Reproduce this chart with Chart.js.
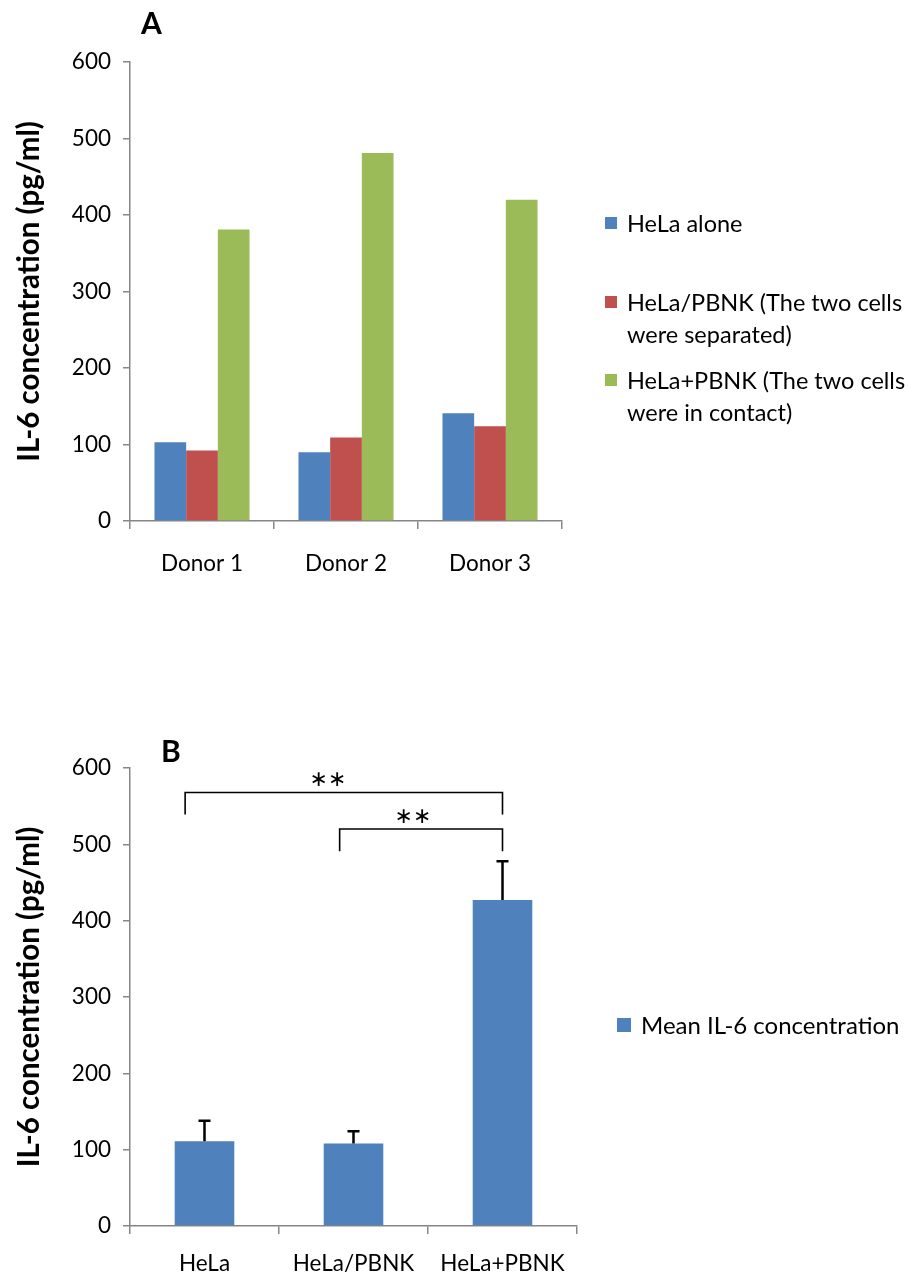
<!DOCTYPE html>
<html>
<head>
<meta charset="utf-8">
<script src="https://cdn.jsdelivr.net/npm/chart.js@4/dist/chart.umd.min.js"></script>
<style>
  html, body { margin: 0; padding: 0; background: #fff; }
  body { width: 911px; height: 1280px; position: relative; overflow: hidden; font-family: Lato, sans-serif; color: #000; }
  canvas { position: absolute; left: 0; }
  #chartA { top: 0; }
  #chartB { top: 640px; }
  .panel { position: absolute; font-weight: bold; font-size: 30px; line-height: 30px; }
  .leg { position: absolute; font-size: 23.5px; line-height: 32px; white-space: nowrap; padding-left: 22px; }
  .leg .sw { position: absolute; left: 0; top: 10px; width: 12px; height: 12px; }
</style>
</head>
<body>
<canvas id="chartA" width="911" height="640"></canvas>
<canvas id="chartB" width="911" height="640"></canvas>

<div class="panel" style="left:141px;top:7px;">A</div>
<div class="panel" style="left:161px;top:735px;">B</div>

<div class="leg" style="left:605px;top:207px;"><span class="sw" style="background:#4F81BD"></span>HeLa alone</div>
<div class="leg" style="left:605px;top:286px;"><span class="sw" style="background:#C0504D"></span>HeLa/PBNK (The two cells<br>were separated)</div>
<div class="leg" style="left:605px;top:364px;"><span class="sw" style="background:#9BBB59"></span>HeLa+PBNK (The two cells<br>were in contact)</div>
<div class="leg" style="left:617px;top:1009px;padding-left:24px;font-size:24px;"><span class="sw" style="background:#4F81BD;width:14px;height:14px;top:9px;"></span>Mean IL-6 concentration</div>

<script>
// Panel A: IL-6 per donor
const donorLabels = ['Donor 1', 'Donor 2', 'Donor 3'];
const helaAlone = [103, 90, 141];
const helaSeparated = [92, 109, 124];
const helaContact = [381, 481, 420];

// Panel B: mean IL-6 with SD
const groupLabels = ['HeLa', 'HeLa/PBNK', 'HeLa+PBNK'];
const meanIL6 = [111, 108, 427];
const sdIL6 = [27, 16, 51];

// Significance brackets: categories compared, bar height and leg bottom (pg/ml)
const bracketFrom = [0, 1];
const bracketTo = [2, 2];
const bracketTop = [568, 520];
const bracketLegEnd = [539, 491];
const bracketText = ['**', '**'];

const yTicks = [0, 100, 200, 300, 400, 500, 600];

const AXIS = '#868686';
const tickFont = { family: 'Lato', size: 22.5 };
const titleFont = { family: 'Lato', size: 29.5, weight: 'bold' };

function yScale(width) {
  return {
    min: 0, max: 600,
    afterBuildTicks: s => { s.ticks = yTicks.map(v => ({ value: v })); },
    afterFit: s => { s.width = width; },
    ticks: { color: '#000', font: tickFont, padding: 12 },
    grid: { drawOnChartArea: false, drawTicks: true, tickLength: 7, color: AXIS, lineWidth: 1.5 },
    border: { color: AXIS, width: 1.5 },
    title: { display: true, text: 'IL-6 concentration (pg/ml)', color: '#000', font: titleFont, padding: { top: 12, bottom: 4 } }
  };
}
function xScale(height, pad) {
  return {
    afterFit: s => { s.height = height; },
    ticks: { color: '#000', font: tickFont, padding: pad },
    grid: { offset: true, drawOnChartArea: false, drawTicks: true, tickLength: 8, color: AXIS, lineWidth: 1.5 },
    border: { color: AXIS, width: 1.5 }
  };
}

new Chart(document.getElementById('chartA'), {
  type: 'bar',
  data: {
    labels: donorLabels,
    datasets: [
      { label: 'HeLa alone', data: helaAlone, backgroundColor: '#4F81BD' },
      { label: 'HeLa/PBNK (The two cells were separated)', data: helaSeparated, backgroundColor: '#C0504D' },
      { label: 'HeLa+PBNK (The two cells were in contact)', data: helaContact, backgroundColor: '#9BBB59' }
    ]
  },
  options: {
    responsive: false, animation: false, devicePixelRatio: 1,
    layout: { padding: { top: 62, right: 349, left: 0, bottom: 0 } },
    datasets: { bar: { categoryPercentage: 0.66, barPercentage: 1 } },
    plugins: { legend: { display: false }, tooltip: { enabled: false } },
    scales: { x: xScale(119, 21), y: yScale(130) }
  }
});

// Left-leg shift of each bracket, in category widths
const legShift = [-0.13, -0.093];

// Error bars (upper only) and significance brackets
const annotations = {
  id: 'annotations',
  afterDatasetsDraw(chart) {
    const ctx = chart.ctx, x = chart.scales.x, y = chart.scales.y;
    const meta = chart.getDatasetMeta(0);
    ctx.save();
    ctx.strokeStyle = '#000';
    ctx.lineWidth = 2.5;
    meta.data.forEach((bar, i) => {
      const top = y.getPixelForValue(meanIL6[i] + sdIL6[i]);
      ctx.beginPath();
      ctx.moveTo(bar.x, bar.y);
      ctx.lineTo(bar.x, top);
      ctx.moveTo(bar.x - 6, top);
      ctx.lineTo(bar.x + 6, top);
      ctx.stroke();
    });
    const step = x.getPixelForValue(1) - x.getPixelForValue(0);
    ctx.lineWidth = 1.6;
    ctx.fillStyle = '#000';
    ctx.font = '22px "DejaVu Sans"';
    ctx.textAlign = 'center';
    ctx.textBaseline = 'middle';
    bracketFrom.forEach((from, i) => {
      const x1 = x.getPixelForValue(from) + legShift[i] * step;
      const x2 = x.getPixelForValue(bracketTo[i]);
      const yt = y.getPixelForValue(bracketTop[i]);
      const yb = y.getPixelForValue(bracketLegEnd[i]);
      ctx.beginPath();
      ctx.moveTo(x1, yb);
      ctx.lineTo(x1, yt);
      ctx.lineTo(x2, yt);
      ctx.lineTo(x2, yb);
      ctx.stroke();
      ctx.fillText(bracketText[i].replace(/\*/g, '\u2217'), x1 + 0.45 * (x2 - x1), yt - 12);
    });
    ctx.restore();
  }
};

new Chart(document.getElementById('chartB'), {
  type: 'bar',
  data: {
    labels: groupLabels,
    datasets: [
      { label: 'Mean IL-6 concentration', data: meanIL6, backgroundColor: '#4F81BD' }
    ]
  },
  options: {
    responsive: false, animation: false, devicePixelRatio: 1,
    layout: { padding: { top: 128, right: 334, left: 0, bottom: 0 } },
    datasets: { bar: { categoryPercentage: 0.4, barPercentage: 1 } },
    plugins: { legend: { display: false }, tooltip: { enabled: false } },
    scales: { x: xScale(54, 16), y: yScale(130) }
  },
  plugins: [annotations]
});
</script>
</body>
</html>
